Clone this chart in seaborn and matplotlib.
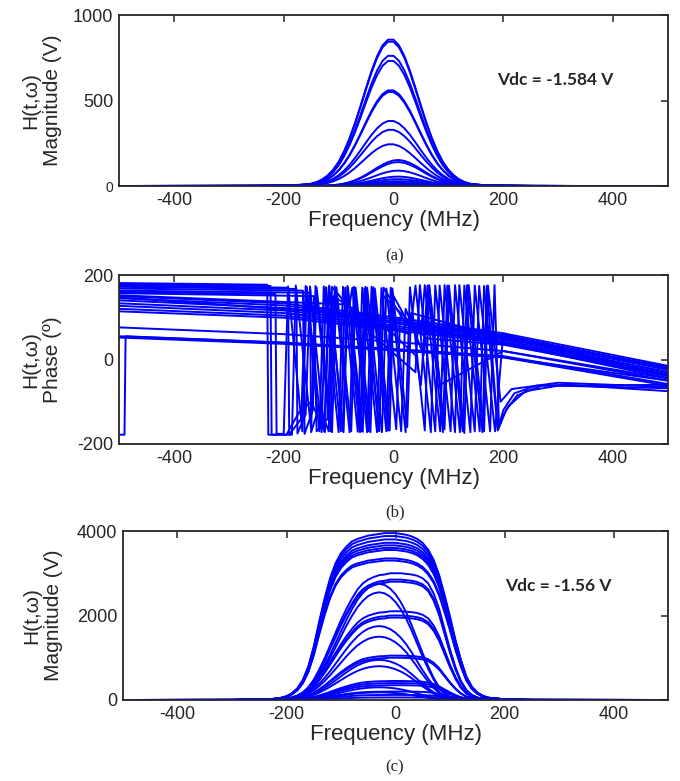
"""
Three-panel H(t,w) figure: magnitude, phase, magnitude.
"""

import numpy as np
import pandas as pd
import seaborn as sns
import matplotlib.pyplot as plt

# ---------------- panel (a): magnitude, Vdc = -1.584 V ----------------
prof_a_freq = [-500, -350, -250, -200, -170, -150, -140, -130, -120, -110, -100, -90, -80, -70,
               -60, -50, -40, -30, -20, -10, 0, 10, 20, 30, 40, 50, 60, 70, 80, 90, 100, 110,
               120, 130, 140, 160, 200, 250, 350, 500]
prof_a_big = [0, 0.001, 0.002, 0.004, 0.008, 0.015, 0.026, 0.044, 0.071, 0.11, 0.164, 0.236,
              0.325, 0.43, 0.546, 0.667, 0.783, 0.882, 0.956, 0.995, 0.995, 0.956, 0.882, 0.783,
              0.667, 0.546, 0.43, 0.325, 0.236, 0.164, 0.11, 0.071, 0.044, 0.026, 0.015, 0.007,
              0.003, 0.001, 0, 0]
prof_a_small = [0, 0, 0, 0.001, 0.001, 0.002, 0.0045, 0.009, 0.018, 0.032, 0.056, 0.093, 0.147,
                0.223, 0.32, 0.435, 0.565, 0.7, 0.82, 0.92, 0.984, 0.999, 0.965, 0.887, 0.776,
                0.648, 0.51, 0.386, 0.278, 0.19, 0.124, 0.077, 0.045, 0.025, 0.014, 0.004,
                0.001, 0, 0, 0]
amp_a_big = [860, 848, 765, 735, 562, 552, 382, 330, 245]
amp_a_small = [152, 140, 90, 55, 40, 28, 18, 10, 5]

# ---------------- panel (b): phase ----------------
straight_f = [-500, -200, 0, 200, 500]
straight_v = [
    [150, 133, 100, 62, -15],
    [145, 128, 95, 58, -20],
    [140, 122, 90, 54, -25],
    [133, 116, 86, 50, -30],
    [127, 110, 80, 46, -35],
    [120, 104, 75, 42, -40],
    [114, 99, 70, 38, -44],
    [76, 60, 42, 20, -50],
    [55, 40, 25, 8, -58],
    [52, 37, 22, 5, -62],
]
jump_f = [-500, -490, -488, -200, 0, 200, 500]
jump_v = [-178, -178, 55, 40, 22, 5, -50]

zig_f = [
    [-500, -230, -228, -195, -172, -150, -125, -117, -92, -84, -59, -51, -26, -18, 20, 200, 500],
    [-500, -224, -222, -185, -178, -150, -142, -115, -107, -80, -72, -45, -37, -10, -2, 25, 32,
     200, 500],
    [-500, -192, -190, -168, -160, -135, -127, -100, -92, -65, -57, -30, -22, 5, 12, 50, 57, 85,
     93, 121, 129, 157, 165, 190, 200, 220, 260, 320, 500],
    [-500, -177, -175, -160, -152, -126, -118, -91, -83, -56, -48, -21, -13, 14, 22, 55, 65, 93,
     101, 129, 137, 165, 172, 195, 215, 300, 500],
    [-500, -165, -162, -147, -140, -112, -104, -77, -69, -42, -34, -7, 0, 30, 200, 500],
    [-500, -152, -150, -135, -118, -110, 0, 40, 50, 62, 90, 98, 126, 134, 162, 170, 190, 205,
     225, 270, 500],
    [-500, -145, -140, -120, -112, -40, 40, 48, 76, 84, 112, 120, 148, 156, 185, 200, 300, 500],
    [-500, -215, -213, -200, -192, -166, -158, -131, -123, -96, -88, -61, -53, -26, -18, 60,
     200, 500],
    [-500, -80, -75, -48, -40, -13, -5, 22, 30, 57, 65, 85, 200, 500],
    [-500, -100, 30, 40, 68, 76, 104, 112, 140, 148, 176, 184, 192, 210, 240, 300, 500],
]
zig_v = [
    [181, 177, -178, -178, -125, -100, -172, 175, -170, 174, -170, 172, -168, 170, 90, 55, -18],
    [178, 174, -178, -178, 175, -165, 174, -170, 173, -172, 172, -170, 171, -168, 168, -160, 110,
     50, -22],
    [175, 170, -178, -140, 174, -170, 173, -172, 172, -171, 170, -172, 169, -165, 100, 60, 176,
     -170, 176, -172, 175, -170, 174, -165, -120, -80, -62, -60, -75],
    [172, 167, -175, -130, 173, -170, 172, -172, 171, -171, 170, -172, 168, -170, 120, 10, 176,
     -165, 175, -174, 176, -170, 175, -100, -70, -55, -65],
    [168, 163, -176, -120, 170, -172, 171, -170, 170, -172, 168, -168, 150, 80, 40, -35],
    [163, 158, -172, -110, -170, 150, 60, 10, -60, 175, -172, 175, -170, 176, -172, 174, -168,
     -120, -85, -62, -60],
    [157, 150, -170, -140, 172, 60, -30, 176, -170, 175, -172, 176, -170, 174, -170, 62, 20, -30],
    [160, 155, -176, -176, 173, -170, 172, -172, 171, -170, 170, -172, 168, -170, 150, 50, 35,
     -38],
    [152, 130, 170, -172, 172, -170, 170, -172, 171, -168, 174, -60, 20, -45],
    [147, 110, 60, 175, -172, 175, -170, 176, -172, 175, -170, 176, -150, -110, -75, -62, -68],
]

# ---------------- panel (c): magnitude, Vdc = -1.56 V ----------------
prof_c_freq = [-500, -300, -230, -220, -210, -200, -190, -180, -170, -160, -150, -140, -130, -120,
               -110, -100, -90, -80, -70, -60, -50, -40, -30, -20, -10, 0, 10, 20, 30, 40, 50,
               60, 70, 80, 90, 100, 110, 120, 130, 140, 150, 160, 170, 200, 250, 500]
prof_c_wide = [0, 0.001, 0.005, 0.008, 0.013, 0.022, 0.04, 0.07, 0.12, 0.2, 0.32, 0.47, 0.61,
               0.73, 0.82, 0.88, 0.92, 0.95, 0.965, 0.975, 0.985, 0.99, 0.995, 1.0, 1.0, 1.0,
               0.995, 0.99, 0.98, 0.965, 0.94, 0.9, 0.84, 0.75, 0.63, 0.5, 0.36, 0.24, 0.14,
               0.08, 0.045, 0.025, 0.014, 0.004, 0.001, 0]
prof_c_mid = [0, 0, 0.002, 0.004, 0.007, 0.012, 0.02, 0.035, 0.06, 0.1, 0.16, 0.24, 0.33, 0.43,
              0.53, 0.63, 0.72, 0.8, 0.87, 0.92, 0.95, 0.97, 0.985, 0.99, 1.0, 1.0, 1.0, 0.995,
              0.99, 0.98, 0.96, 0.92, 0.84, 0.72, 0.56, 0.4, 0.26, 0.15, 0.08, 0.04, 0.02, 0.01,
              0.005, 0.001, 0, 0]
prof_c_peak = [0, 0, 0.002, 0.004, 0.007, 0.012, 0.02, 0.035, 0.06, 0.1, 0.15, 0.22, 0.3, 0.39,
               0.49, 0.59, 0.69, 0.78, 0.86, 0.92, 0.965, 0.99, 1.0, 0.99, 0.96, 0.91, 0.84,
               0.75, 0.64, 0.52, 0.4, 0.29, 0.19, 0.11, 0.06, 0.03, 0.015, 0.007, 0.003, 0.001,
               0, 0, 0, 0, 0, 0]
amp_c_wide = [3950, 3880, 3800, 3720, 3660, 3600, 3550, 3350, 3300]
amp_c_mid = [3000, 2850, 2800, 2100, 2000, 1950, 1050, 1000, 450, 400, 350, 200, 120, 60]
amp_c_peak = [2750, 2550, 1750, 1500, 950, 800, 300, 180]


def scaled_frame(freq, profiles_amps):
    rows = []
    k = 0
    for prof, amps in profiles_amps:
        for a in amps:
            for f, p in zip(freq, prof):
                rows.append((k, f, a * p))
            k += 1
    return pd.DataFrame(rows, columns=['curve', 'f', 'v'])


def vertex_frame(f_lists, v_lists):
    rows = []
    for k, (fs, vs) in enumerate(zip(f_lists, v_lists)):
        for f, v in zip(fs, vs):
            rows.append((k, f, v))
    return pd.DataFrame(rows, columns=['curve', 'f', 'v'])


df_a = scaled_frame(prof_a_freq, [(prof_a_big, amp_a_big), (prof_a_small, amp_a_small)])
df_c = scaled_frame(prof_c_freq, [(prof_c_wide, amp_c_wide), (prof_c_mid, amp_c_mid),
                                  (prof_c_peak, amp_c_peak)])
df_b = vertex_frame(zig_f + [straight_f] * len(straight_v) + [jump_f],
                    zig_v + straight_v + [jump_v])

sns.set_style('white')
plt.rcParams['font.family'] = ['Liberation Sans', 'DejaVu Sans']
plt.rcParams['axes.unicode_minus'] = False

W, H = 680, 781
fig = plt.figure(figsize=(6.8, 7.81), dpi=100)
ax_a = fig.add_axes([119 / W, 1 - 186 / H, 549 / W, 171 / H])
ax_b = fig.add_axes([119 / W, 1 - 444 / H, 549 / W, 169 / H])
ax_c = fig.add_axes([123 / W, 1 - 700 / H, 545 / W, 169 / H])

dark = '#262626'
for ax, df in [(ax_a, df_a), (ax_b, df_b), (ax_c, df_c)]:
    sns.lineplot(data=df, x='f', y='v', units='curve', estimator=None, sort=False,
                 color='#0000ff', lw=1.4, ax=ax, legend=False)
    ax.set_xlim(-500, 500)
    ax.set_xticks([-400, -200, 0, 200, 400])
    ax.tick_params(direction='in', top=True, right=True, length=5, width=1.1,
                   labelsize=13, colors=dark, pad=4)
    for s in ax.spines.values():
        s.set_color(dark)
        s.set_linewidth(1.3)
    ax.set_xlabel('Frequency (MHz)', fontsize=16, color=dark, labelpad=1)

ax_a.set_ylim(0, 1000)
ax_a.set_yticks([0, 500, 1000])
ax_a.get_yticklabels()[0].set_fontsize(10)
ax_a.set_ylabel('H(t,\u03c9)\nMagnitude (V)', fontsize=15, color=dark, linespacing=1.15)

ax_b.set_ylim(-200, 200)
ax_b.set_yticks([-200, 0, 200])
ax_b.set_ylabel('H(t,\u03c9)\nPhase (\u00ba)', fontsize=15, color=dark, linespacing=1.15)

ax_c.set_ylim(0, 4000)
ax_c.set_yticks([0, 2000, 4000])
ax_c.set_ylabel('H(t,\u03c9)\nMagnitude (V)', fontsize=15, color=dark, linespacing=1.15)

ax_a.yaxis.set_label_coords(-0.104, 0.5)
ax_b.yaxis.set_label_coords(-0.104, 0.5)
ax_c.yaxis.set_label_coords(-0.111, 0.5)

ax_a.text(188, 619, 'Vdc = -1.584 V', fontsize=12.5, fontweight='bold', family='Lato',
          va='center', ha='left')
ax_c.text(202, 2706, 'Vdc = -1.56 V', fontsize=12.5, fontweight='bold', family='Lato',
          va='center', ha='left')

for lab, y in [('(a)', 256), ('(b)', 512), ('(c)', 767)]:
    fig.text(395 / W, 1 - y / H, lab, family='Liberation Serif', fontsize=12,
             ha='center', va='center')

fig.savefig('out.png', dpi=100)
